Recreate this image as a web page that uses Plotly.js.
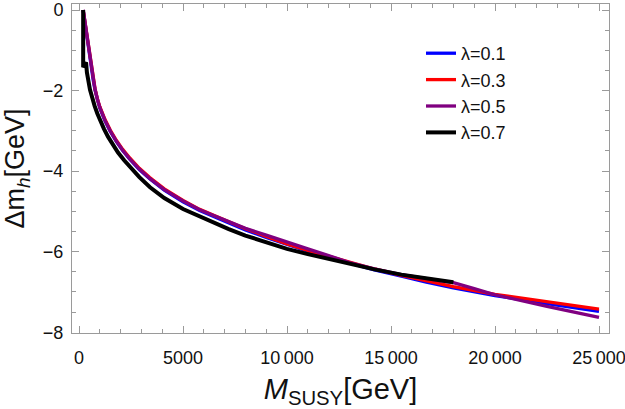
<!DOCTYPE html>
<html>
<head>
<meta charset="utf-8">
<script src="https://cdn.plot.ly/plotly-3.0.1.min.js"></script>
<style>html,body{margin:0;padding:0;background:#fff;}#chart{width:625px;height:409px;}</style>
</head>
<body>
<div id="chart"></div>
<script>
// M_SUSY grid (GeV) for the lambda = 0.1 and 0.3 curves
const mSusy = [200, 250, 300, 360, 433, 520, 600, 680, 770, 880, 1000, 1250, 1500, 1800, 2100, 2450, 2900, 3400, 4100, 5000, 5800, 6500, 7200, 8000, 9000, 10000, 11000, 12000, 13000, 14200, 15500, 16700, 18000, 20000, 22500, 25000];
const dmLam01 = [0, -0.19, -0.36, -0.58, -0.81, -1.13, -1.45, -1.73, -1.98, -2.23, -2.43, -2.75, -3.01, -3.27, -3.49, -3.71, -3.96, -4.19, -4.47, -4.76, -4.98, -5.13, -5.29, -5.46, -5.65, -5.83, -5.99, -6.14, -6.29, -6.45, -6.61, -6.76, -6.90, -7.09, -7.29, -7.48];
const dmLam03 = [0, -0.17, -0.33, -0.55, -0.78, -1.10, -1.42, -1.70, -1.95, -2.20, -2.40, -2.72, -2.98, -3.24, -3.46, -3.68, -3.93, -4.16, -4.44, -4.73, -4.95, -5.10, -5.26, -5.43, -5.62, -5.81, -5.97, -6.12, -6.27, -6.43, -6.59, -6.73, -6.87, -7.06, -7.25, -7.43];
// lambda = 0.5 has its own grid (kink near 18000)
const mSusyLam05 = [200, 250, 300, 360, 433, 520, 600, 680, 770, 880, 1000, 1250, 1500, 1800, 2100, 2450, 2900, 3400, 4100, 5000, 5800, 6500, 7200, 8000, 9000, 10000, 11000, 12000, 13000, 14200, 15500, 16700, 18000, 19000, 20000, 22500, 25000];
const dmLam05 = [0, -0.18, -0.35, -0.57, -0.80, -1.12, -1.44, -1.72, -1.97, -2.22, -2.42, -2.74, -3.00, -3.26, -3.48, -3.70, -3.95, -4.18, -4.46, -4.74, -4.96, -5.11, -5.26, -5.42, -5.59, -5.77, -5.93, -6.10, -6.27, -6.43, -6.57, -6.67, -6.77, -6.92, -7.07, -7.36, -7.63];
// lambda = 0.7 (ends at 18000)
const mSusyLam07 = [200, 200, 340, 380, 529, 640, 750, 880, 1010, 1200, 1400, 1630, 1875, 2170, 2500, 2900, 3413, 4100, 5000, 5800, 6500, 7200, 8000, 9000, 10000, 11000, 12000, 13000, 14200, 15500, 16700, 18000];
const dmLam07 = [0, -1.42, -1.30, -1.55, -1.98, -2.20, -2.38, -2.57, -2.75, -2.95, -3.15, -3.35, -3.54, -3.73, -3.92, -4.15, -4.40, -4.67, -4.94, -5.13, -5.29, -5.44, -5.60, -5.77, -5.93, -6.06, -6.18, -6.30, -6.44, -6.57, -6.67, -6.76];

const legendNames = ['λ=0.1', 'λ=0.3', 'λ=0.5', 'λ=0.7'];
const xTickVals = [0, 5000, 10000, 15000, 20000, 25000];
const xTickText = ['0', '5000', '10\u2009000', '15\u2009000', '20\u2009000', '25\u2009000'];
const yTickVals = [0, -2, -4, -6, -8];

const colors = ['#0000ff', '#ff0000', '#800080', '#000000'];
const traces = [
  {x: mSusy, y: dmLam01, name: legendNames[0], legendgroup: 'a', line: {color: colors[0], width: 3.3}},
  {x: mSusy, y: dmLam03, name: legendNames[1], legendgroup: 'b', line: {color: colors[1], width: 3.3}},
  {x: mSusyLam05, y: dmLam05, name: legendNames[2], legendgroup: 'c', line: {color: colors[2], width: 3.3}},
  {x: mSusyLam07, y: dmLam07, name: legendNames[3], legendgroup: 'd', line: {color: colors[3], width: 4}}
].map(t => Object.assign({type: 'scatter', mode: 'lines'}, t));

const axisCommon = {
  showline: true, linecolor: '#9a9a9a', linewidth: 1, mirror: 'ticks',
  ticks: 'inside', ticklen: 7, tickcolor: '#9a9a9a', tickwidth: 1,
  showgrid: false, zeroline: false,
  tickfont: {family: 'Liberation Sans, Arial, sans-serif', size: 18, color: '#111'}
};

const layout = {
  width: 625, height: 409,
  margin: {l: 72, r: 16, t: 4, b: 76},
  paper_bgcolor: '#fff', plot_bgcolor: '#fff',
  font: {family: 'Liberation Sans, Arial, sans-serif', color: '#111'},
  showlegend: true,
  legend: {
    x: (421 - 72) / 537, y: 1 - (35 - 4) / 329, xanchor: 'left', yanchor: 'top',
    font: {size: 18, color: '#111'}, tracegroupgap: 0, bgcolor: 'rgba(0,0,0,0)', borderwidth: 0
  },
  xaxis: Object.assign({}, axisCommon, {
    range: [-337, 25481],
    tickmode: 'array', tickvals: xTickVals, ticktext: xTickText,
    ticklabelstandoff: 8, ticklabeloverflow: 'allow',
    minor: {ticks: 'inside', ticklen: 4, tickcolor: '#9a9a9a', dtick: 1000, tick0: 0, showgrid: false},
    title: {text: '<i>M</i><sub>SUSY</sub>[GeV]', font: {size: 29, color: '#111'}, standoff: 12}
  }),
  yaxis: Object.assign({}, axisCommon, {
    range: [-8.02, 0.15],
    tickmode: 'array', tickvals: yTickVals,
    ticklabelstandoff: 4,
    minor: {ticks: 'inside', ticklen: 4, tickcolor: '#9a9a9a', dtick: 0.5, tick0: 0, showgrid: false},
    title: {text: 'Δm<sub><i>h</i></sub>[GeV]', font: {size: 27, color: '#111'}, standoff: 10}
  })
};

Plotly.newPlot('chart', traces, layout, {staticPlot: true, displayModeBar: false});
</script>
</body>
</html>
